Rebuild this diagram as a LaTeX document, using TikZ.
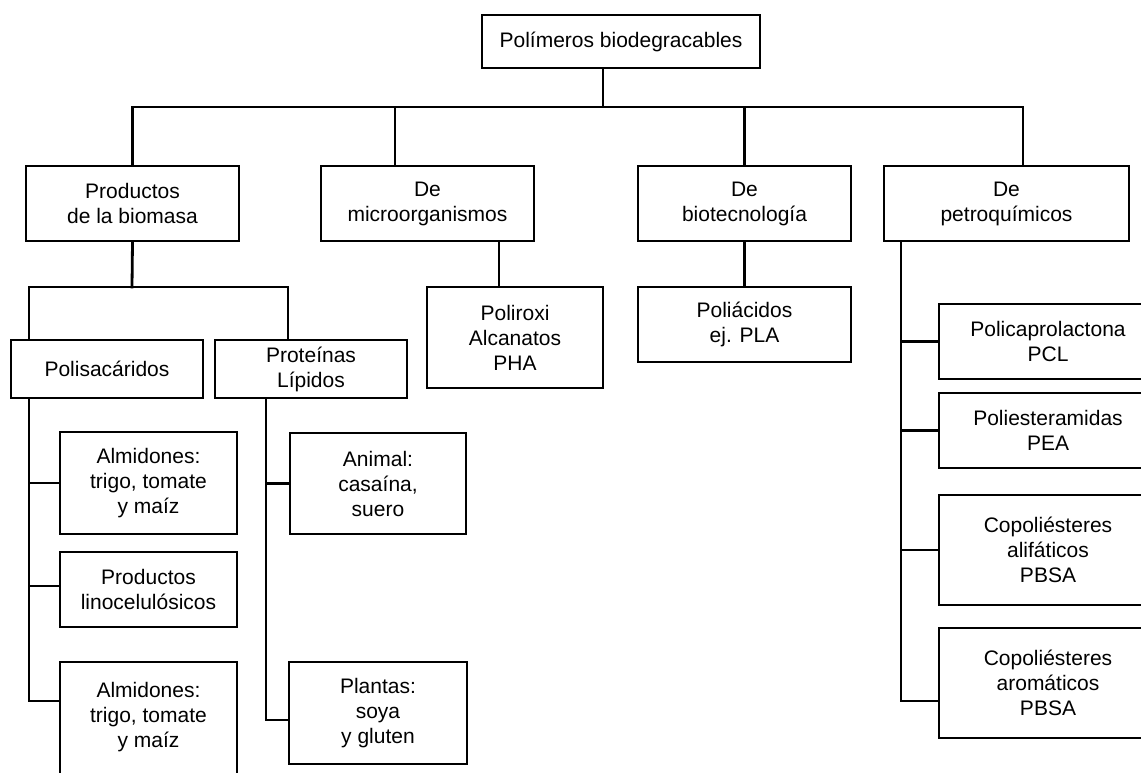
\documentclass[tikz,border=0pt]{standalone}
\usepackage{fontspec}
\setmainfont{Liberation Sans}
\begin{document}
\begin{tikzpicture}[x=1pt,y=-1pt,
  box/.style={draw=black,line width=2.8pt,fill=white,inner sep=0pt,align=center,
    font=\fontsize{21}{25}\selectfont,minimum width=#1},
  box/.default=213pt,
  conn/.style={draw=black,line width=2.8pt,line cap=rect}]
\fill[white] (0,0) rectangle (1141,772);
\useasboundingbox (0,0) rectangle (1141,772);
\clip (0,0) rectangle (1141,772);

\coordinate (bus) at (603,107);
\coordinate (pb) at (132,287);

\node[box=278pt,minimum height=53pt] (top) at (621,41.5) {Polímeros biodegracables};
\node[box,minimum height=75pt] (prod) at (132.5,203.5) {Productos\\de la biomasa};
\node[box,minimum height=75pt] (micro) at (427.5,203.5) {De\\microorganismos};
\node[box,minimum height=75pt] (biot) at (744.5,203.5) {De\\biotecnología};
\node[box=245pt,minimum height=75pt] (petro) at (1006.5,203.5) {De\\petroquímicos};

\node[box=176pt,minimum height=101pt] (polir) at (515,337.5) {Poliroxi\\Alcanatos\\PHA};
\node[box,minimum height=75pt] (polia) at (744.5,324.5) {Poliácidos\\ej. PLA};

\node[box=192pt,minimum height=58pt] (polis) at (107,369) {Polisacáridos};
\node[box=192pt,minimum height=58pt] (prot) at (311,369) {Proteínas\\Lípidos};

\node[box=177pt,minimum height=102pt] (alm1) at (148.5,483) {Almidones:\\trigo, tomate\\y maíz};
\node[box=177pt,minimum height=75pt] (lino) at (148.5,589.5) {Productos\\linocelulósicos};
\node[box=177pt,minimum height=122pt,text depth=17pt] (alm2) at (148.5,723) {Almidones:\\trigo, tomate\\y maíz};

\node[box=176pt,minimum height=101pt] (anim) at (378,483.5) {Animal:\\casaína,\\suero};
\node[box=178pt,minimum height=102pt] (plant) at (378,713) {Plantas:\\soya\\y gluten};

\node[box=218pt,minimum height=75pt] (pcl) at (1048,341.5) {Policaprolactona\\PCL};
\node[box=218pt,minimum height=75pt] (pea) at (1048,430.5) {Poliesteramidas\\PEA};
\node[box=218pt,minimum height=110pt] (alif) at (1048,550) {Copoliésteres\\alifáticos\\PBSA};
\node[box=218pt,minimum height=110pt] (arom) at (1048,683) {Copoliésteres\\aromáticos\\PBSA};

\coordinate (lc) at ([xshift=-78pt]polis.south);
\coordinate (rc) at ([xshift=-45pt]prot.south);
\coordinate (pc) at ([xshift=-105.5pt]petro.south);

% top bus
\draw[conn] ([xshift=-18pt]top.south) -- (bus);
\draw[conn] (prod.north) |- (bus);
\draw[conn] ([xshift=-32.5pt]micro.north) |- (bus);
\draw[conn] (biot.north) |- (bus);
\draw[conn] ([xshift=16.5pt]petro.north) |- (bus);

% second level
\draw[conn] ([xshift=71.5pt]micro.south) -- ([xshift=-16pt]polir.north);
\draw[conn] (biot.south) -- (polia.north);
\draw[conn] (prod.south) -- (pb);
\draw[conn] ([xshift=-78pt]polis.north) |- (pb);
\draw[conn] ([xshift=-23pt]prot.north) |- (pb);

% left column
\draw[conn] (lc) |- ([yshift=22pt]alm2.west);
\draw[conn] (alm1.west) -- (alm1.west -| lc);
\draw[conn] ([yshift=3.5pt]lino.west) -- ([yshift=3.5pt]lino.west -| lc);

% proteins column
\draw[conn] (rc) |- ([yshift=-7pt]plant.west);
\draw[conn] (anim.west) -- (anim.west -| rc);

% petro column
\draw[conn] (pc) |- ([yshift=-18pt]arom.west);
\draw[conn] (pcl.west) -- (pcl.west -| pc);
\draw[conn] (pea.west) -- (pea.west -| pc);
\draw[conn] (alif.west) -- (alif.west -| pc);
\end{tikzpicture}
\end{document}
